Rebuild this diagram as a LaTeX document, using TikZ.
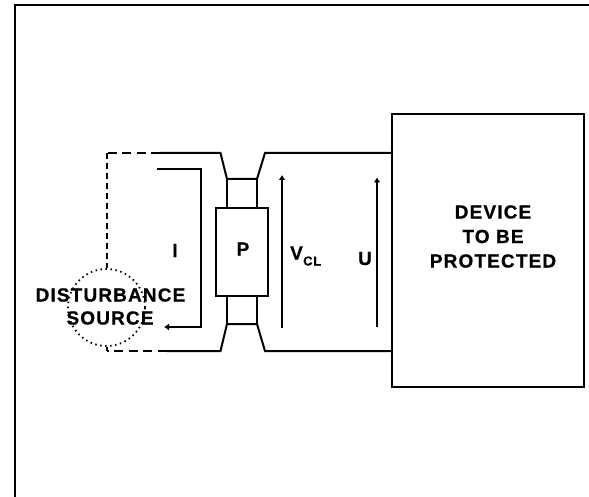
\documentclass[tikz,border=0pt]{standalone}
\usepackage{fontspec}
\setmainfont{Liberation Sans}
\newfontfamily\lblfont[LetterSpace=6,BoldFeatures={FakeBold=0.7}]{Liberation Sans}
\usetikzlibrary{arrows.meta}
\tikzset{
 wire/.style={line width=2pt,line join=miter},
 stub/.style={line width=1.8pt},
 dashh/.style={line width=2pt,dash pattern=on 9pt off 5.5pt},
 dashv/.style={line width=2pt,dash pattern=on 6pt off 4pt},
 volt/.style={line width=1.8pt,-{Latex[length=5pt,width=7pt]}},
 lbl/.style={font=\lblfont\bfseries\fontsize{19}{24.5}\selectfont,align=center,inner sep=0pt,text=black}
}
\begin{document}
\begin{tikzpicture}[x=1pt,y=-1pt]
\useasboundingbox (0,0) rectangle (589,497);
% frame
\coordinate (fb) at (15,497);
\coordinate (ft) at (15,5);
\coordinate (fr) at (589,5);
\draw[line width=2pt] (fb) -- (ft) -- (fr);
% device
\node[draw,line width=2pt,minimum width=192pt,minimum height=273pt,inner sep=0pt,anchor=north west,outer sep=0pt] (dev) at (392,114) {};
\node[lbl] (devt) at (493,236.5) {DEVICE\\TO BE\\PROTECTED};
% protector
\node[draw,line width=2pt,fill=white,minimum width=52pt,minimum height=88pt,inner sep=0pt,outer sep=0pt,anchor=north] (p) at (242,208) {};
\node[lbl] (pt) at (243,249) {P};
% coordinates of wires
\coordinate (tl) at (160,153);
\coordinate (tla) at (220.5,153);
\coordinate (tlb) at (227,179);
\coordinate (trb) at (257,179);
\coordinate (tra) at (265,153);
\coordinate (tr) at (392,153);
\coordinate (bl) at (166.5,351);
\coordinate (bla) at (220.5,351);
\coordinate (blb) at (227,324);
\coordinate (brb) at (257,324);
\coordinate (bra) at (265,351);
\coordinate (br) at (392,351);
\draw[wire] (tl) -- (tla) -- (tlb) -- (trb) -- (tra) -- (tr);
\draw[wire] (bl) -- (bla) -- (blb) -- (brb) -- (bra) -- (br);
\draw[stub] (tlb) -- (tlb |- p.north);
\draw[stub] (trb) -- (trb |- p.north);
\draw[stub] (blb) -- (blb |- p.south);
\draw[stub] (brb) -- (brb |- p.south);
% source
\node[circle,draw,line width=1.8pt,dash pattern=on 1.5pt off 3.5pt,minimum size=77pt,inner sep=0pt] (src) at (106.5,307.5) {};
% dashed return
\coordinate (dt) at (107,153);
\coordinate (db) at (107,351);
\draw[dashh] (tl) -- (dt);
\draw[dashv] (dt) -- (src.north -| dt);
\draw[dashh] (bl) -- (db);
\draw[dashv] (db) -- (src.south -| db);
\node[lbl] (srct) at (110.5,295) {DISTURBANCE};
\node[lbl] (srct2) at (110,318) {SOURCE};
% current
\coordinate (ia) at (156.7,169);
\coordinate (ib) at (201,169);
\coordinate (ic) at (201,327);
\coordinate (id) at (164,327);
\draw[line width=2pt,-{Latex[length=5pt,width=7pt]}] (ia) -- (ib) -- (ic) -- (id);
\node[lbl] (i) at (175,250.5) {I};
% voltages
\coordinate (v1) at (282,328);
\coordinate (v2) at (282,175);
\coordinate (u1) at (377,326.5);
\coordinate (u2) at (377,177.5);
\draw[volt] (v1) -- (v2);
\draw[volt] (u1) -- (u2);
\node[lbl,anchor=base west] (vt) at (290,259.5) {V};
\node[lbl,anchor=base west,font=\lblfont\bfseries\fontsize{13}{14}\selectfont] (cl) at (303,265.5) {CL};
\node[lbl] (ut) at (365,258.5) {U};
\end{tikzpicture}
\end{document}
